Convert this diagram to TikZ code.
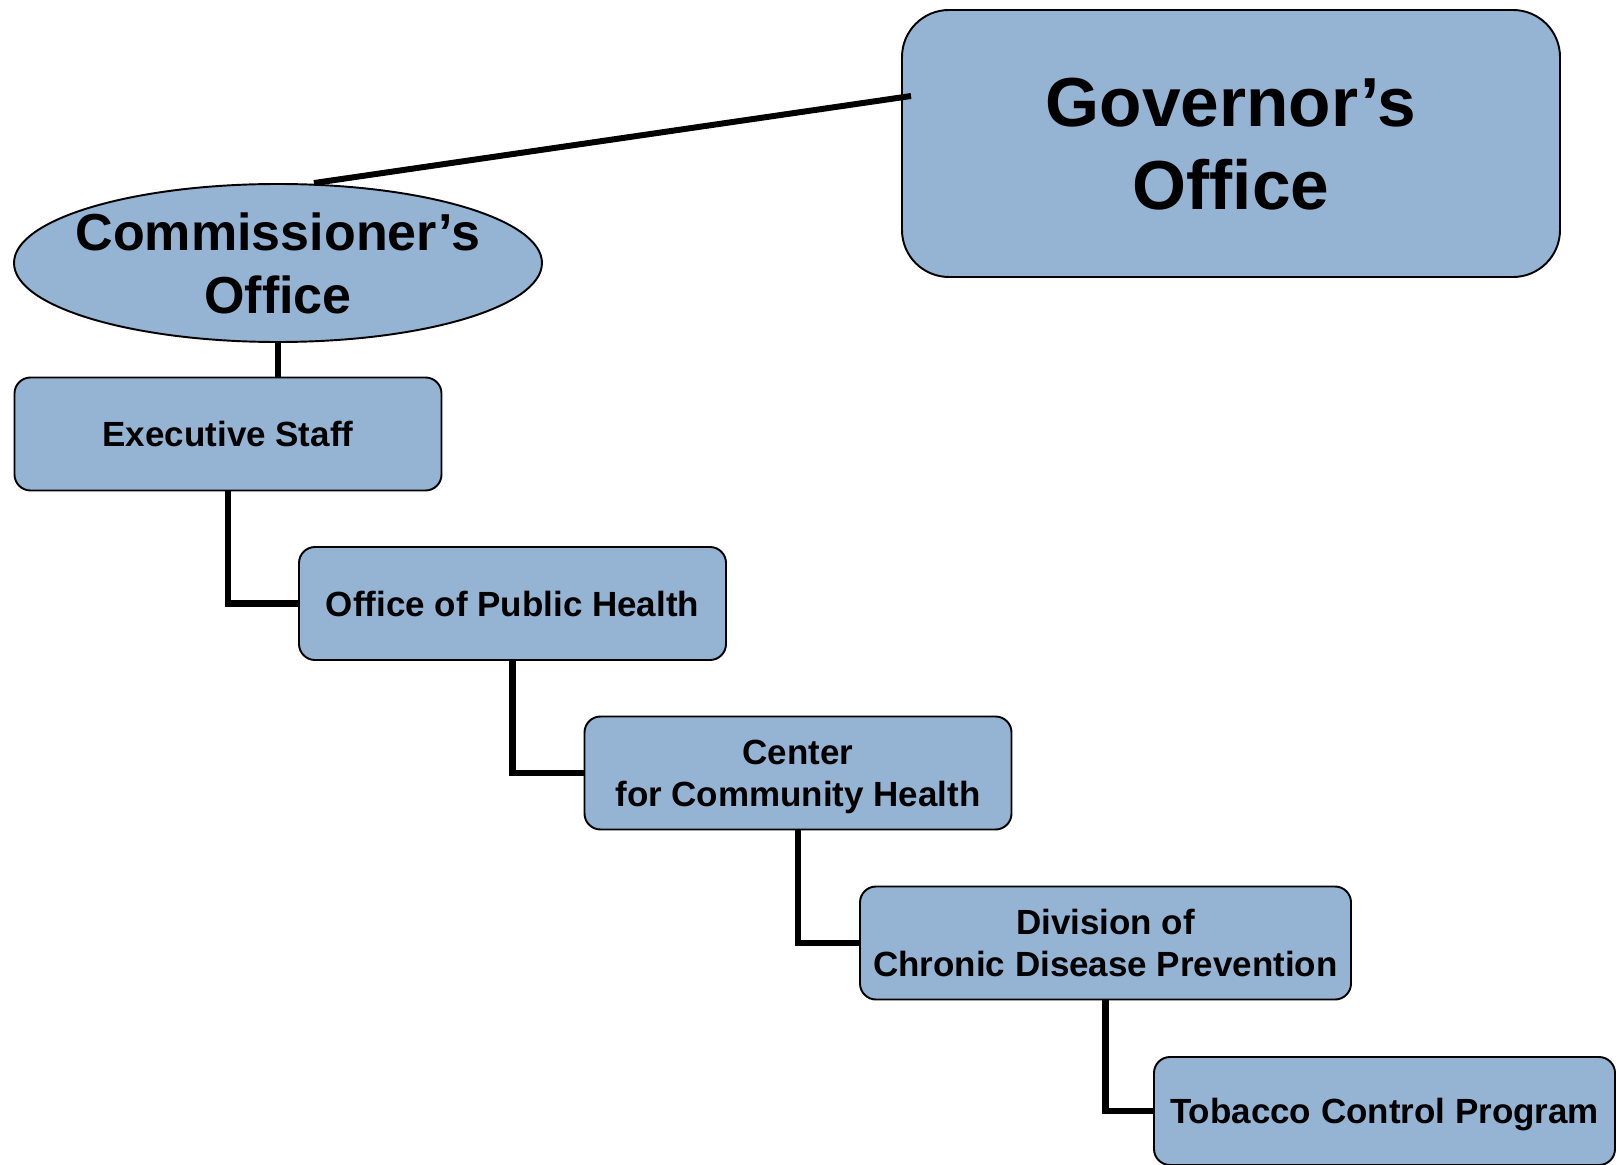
\documentclass[tikz,border=0pt]{standalone}
\usepackage{fontspec}
\setmainfont{Liberation Sans}
\usepackage{tikz}
\usetikzlibrary{shapes.geometric}

\definecolor{unitblue}{RGB}{149,179,211}

\tikzset{
    unit/.style={draw=black, line width=1.1pt, fill=unitblue, rounded corners=0.32cm,
        minimum width=8.54cm, minimum height=2.26cm, align=center, inner sep=0pt,
        text depth=0pt, font=\fontsize{19.9}{24.1}\selectfont\bfseries},
    link/.style={line width=3.8pt, black}
}

\begin{document}
\begin{tikzpicture}
    \useasboundingbox (0,0) rectangle (32.44,-23.3);

    \node[unit, rounded corners=0.94cm, minimum width=13.16cm, minimum height=5.34cm,
        font=\fontsize{39.5}{47.2}\selectfont\bfseries] (gov) at (24.62,-2.87) {Governor's\\Office};
    \node[draw=black, line width=1.1pt, fill=unitblue, shape=ellipse, minimum width=10.56cm,
        minimum height=3.16cm, inner xsep=-0.5cm, inner ysep=0pt, align=center,
        font=\fontsize{29.6}{35.8}\selectfont\bfseries] (comm) at (5.56,-5.26) {Commissioner's\\Office};

    \node[unit] (exec) at (4.56,-8.68) {Executive Staff};
    \node[unit] (oph) at (10.25,-12.07) {Office of Public Health};
    \node[unit] (cch) at (15.96,-15.46) {Center\\for Community Health};
    \node[unit, minimum width=9.82cm] (dcdp) at (22.11,-18.86) {Division of\\Chronic Disease Prevention};
    \node[unit, minimum width=9.22cm, minimum height=2.16cm] (tcp) at (27.69,-22.22) {Tobacco Control Program};

    \draw[link, line width=3.4pt] ([xshift=0.72cm]comm.north) -- ([xshift=0.2cm, yshift=0.95cm]gov.west);
    \draw[link] (comm.south) -- (comm.south |- exec.north);
    \draw[link] (exec.south) |- (oph.west);
    \draw[link] (oph.south) |- (cch.west);
    \draw[link] (cch.south) |- (dcdp.west);
    \draw[link] (dcdp.south) |- (tcp.west);

\end{tikzpicture}
\end{document}
